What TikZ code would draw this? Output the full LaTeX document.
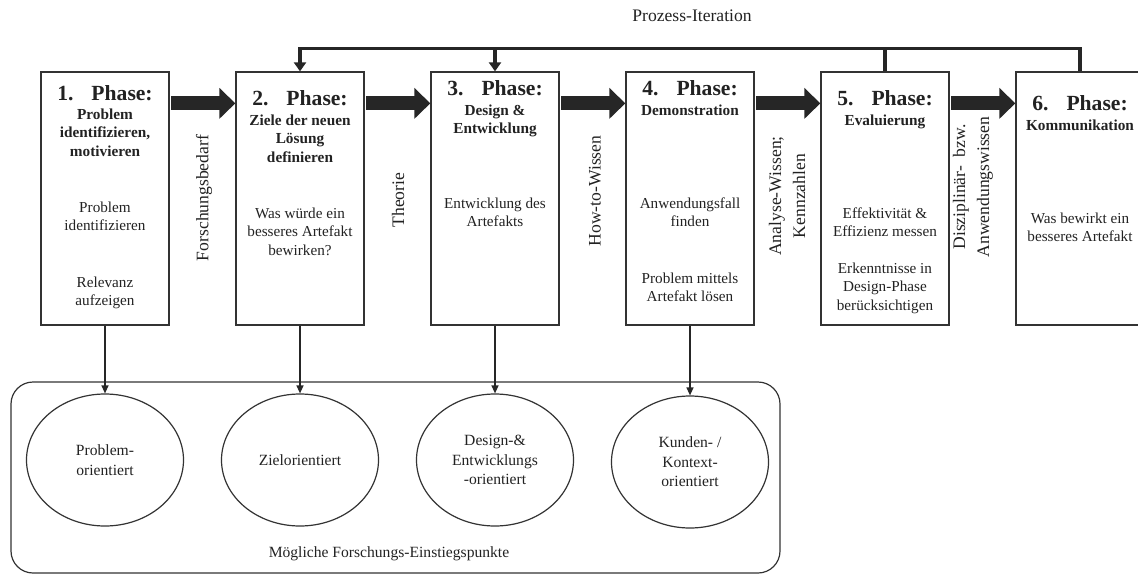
\documentclass[tikz,border=0pt]{standalone}
\usepackage{fontspec}
\setmainfont{Liberation Serif}
\usetikzlibrary{arrows.meta,shapes.geometric,calc}
\definecolor{ink}{HTML}{222222}
\definecolor{arrowc}{HTML}{262626}
\definecolor{boxc}{HTML}{333333}
\newcommand{\fbody}{\fontsize{15.2}{18.7}\selectfont}
\newcommand{\ftitle}{\bfseries\fontsize{21.6}{26}\selectfont}
\newcommand{\fsub}{\bfseries\fontsize{15.3}{18.7}\selectfont}
\newcommand{\fvert}{\fontsize{17.6}{24}\selectfont}
\newcommand{\fell}{\fontsize{15.6}{19.5}\selectfont}
\newcommand{\sr}{\rule{0pt}{11pt}}
\tikzset{
  phasebox/.style={draw=boxc, line width=1.3pt, minimum width=128pt, minimum height=253pt, inner sep=0pt},
  ttl/.style={font=\ftitle, text=ink, anchor=base, inner sep=0pt},
  sub/.style={font=\fsub, text=ink, align=center, anchor=north, inner sep=0pt},
  body/.style={font=\fbody, text=ink, align=center, anchor=north, inner sep=0pt},
  vlab/.style={font=\fvert, text=ink, align=center, rotate=90, inner sep=0pt},
  fat/.style={draw=arrowc, line width=14pt, -{Triangle[length=16pt,width=30pt]}},
  fb/.style={draw=arrowc, line width=3.5pt},
  fbarrow/.style={fb, -{Triangle[length=9pt,width=12pt]}},
  down/.style={draw=arrowc, line width=1.3pt, -{Triangle[length=8pt,width=7pt]}},
  ell/.style={ellipse, draw=boxc, line width=1.2pt, minimum width=157pt, minimum height=132pt, inner sep=0pt, align=center, font=\fell, text=ink}
}
\begin{document}
\begin{tikzpicture}[x=1pt,y=-1pt]
\useasboundingbox (0,0) rectangle (1138,574);
\clip (0,0) rectangle (1138,574);

% phase boxes
\node[phasebox] (b1) at (105,198.5) {};
\node[phasebox] (b2) at (300,198.5) {};
\node[phasebox] (b3) at (495,198.5) {};
\node[phasebox] (b4) at (690,198.5) {};
\node[phasebox] (b5) at (885,198.5) {};
\node[phasebox] (b6) at (1080,198.5) {};

% titles
\node[ttl] (t1) at (105,100) {1.\hspace{18pt}Phase:};
\node[ttl] (t2) at (300,105) {2.\hspace{18pt}Phase:};
\node[ttl] (t3) at (495,95) {3.\hspace{18pt}Phase:};
\node[ttl] (t4) at (690,95) {4.\hspace{18pt}Phase:};
\node[ttl] (t5) at (885,105) {5.\hspace{18pt}Phase:};
\node[ttl] (t6) at (1080,110) {6.\hspace{18pt}Phase:};

% subtitles
\node[sub] (s1) at (105,108) {\sr Problem\\identifizieren,\\motivieren};
\node[sub] (s2) at (300,114) {\sr Ziele der neuen\\Lösung\\definieren};
\node[sub] (s3) at (495,104) {\sr Design \&\\Entwicklung};
\node[sub] (s4) at (690,104) {\sr Demonstration};
\node[sub] (s5) at (885,114) {\sr Evaluierung};
\node[sub] (s6) at (1080,119) {\sr Kommunikation};

% body texts
\node[body] (p1a) at (105,201) {\sr Problem\\identifizieren};
\node[body] (p1b) at (105,276) {\sr Relevanz\\aufzeigen};
\node[body] (p2) at (300,207) {\sr Was würde ein\\besseres Artefakt\\bewirken?};
\node[body] (p3) at (495,197) {\sr Entwicklung des\\Artefakts};
\node[body] (p4a) at (690,197) {\sr Anwendungsfall\\finden};
\node[body] (p4b) at (690,272) {\sr Problem mittels\\Artefakt lösen};
\node[body] (p5a) at (885,207) {\sr Effektivität \&\\Effizienz messen};
\node[body] (p5b) at (885,262) {\sr Erkenntnisse in\\Design-Phase\\berücksichtigen};
\node[body] (p6) at (1080,212) {\sr Was bewirkt ein\\besseres Artefakt};

% fat arrows between phases
\draw[fat] ($(b1.north east)+(1.5,32)$) -- ($(b2.north west)+(0,32)$);
\draw[fat] ($(b2.north east)+(1.5,32)$) -- ($(b3.north west)+(0,32)$);
\draw[fat] ($(b3.north east)+(1.5,32)$) -- ($(b4.north west)+(0,32)$);
\draw[fat] ($(b4.north east)+(1.5,32)$) -- ($(b5.north west)+(0,32)$);
\draw[fat] ($(b5.north east)+(1.5,32)$) -- ($(b6.north west)+(0,32)$);

% vertical labels
\node[vlab] (v1) at (204,198) {Forschungsbedarf};
\node[vlab] (v2) at (398,200) {Theorie};
\node[vlab] (v3) at (595,191) {How-to-Wissen};
\node[vlab] (v4) at (787,196) {Analyse-Wissen;\\Kennzahlen};
\node[vlab] (v5) at (973,187) {Disziplinär-~ bzw.\\Anwendungswissen};

% process iteration
\coordinate (topR) at ($(b6.north)+(0,-23)$);
\draw[fbarrow] (b6.north) -- (topR) -| (b2.north);
\draw[fb] (b5.north) -- (b5.north |- topR);
\draw[fbarrow] (b3.north |- topR) -- (b3.north);
\node[font=\fvert, text=ink, inner sep=0pt] (pi) at (692,16) {Prozess-Iteration};

% entry points
\draw[draw=boxc, line width=1.2pt, rounded corners=22pt] (11,382) rectangle (780,573);
\node[ell] (e1) at (105,460) {Problem-\\orientiert};
\node[ell] (e2) at (300,460) {Zielorientiert};
\node[ell] (e3) at (495,460) {Design-\&\\Entwicklungs\\-orientiert};
\node[ell] (e4) at (690,462) {Kunden- /\\Kontext-\\orientiert};
\node[font=\fell, text=ink, anchor=base, inner sep=0pt] (ml) at (389,557) {Mögliche Forschungs-Einstiegspunkte};

\draw[down] (b1.south) -- (e1.north);
\draw[down] (b2.south) -- (e2.north);
\draw[down] (b3.south) -- (e3.north);
\draw[down] (b4.south) -- (e4.north);
\end{tikzpicture}
\end{document}
